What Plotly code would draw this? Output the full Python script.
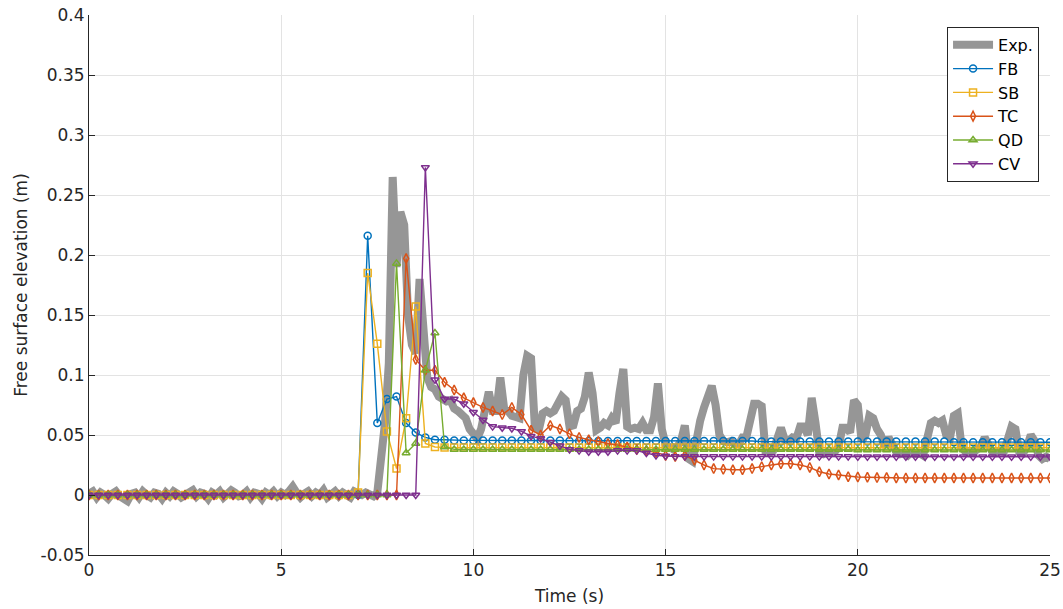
import numpy as np
import plotly.graph_objects as go

# ---------------- data ----------------
exp_t = np.round(np.arange(0, 25.0001, 0.1), 2)
exp_y = [
    # 0.0 - 0.9
    0.001, 0.003, -0.002, 0.002, 0.000, -0.003, 0.001, 0.003, -0.001, -0.004,
    # 1.0 - 1.9
    -0.005, 0.001, 0.002, -0.002, 0.003, 0.000, -0.002, 0.002, 0.001, -0.003,
    # 2.0 - 2.9
    0.002, -0.001, 0.003, 0.001, -0.002, 0.000, 0.003, 0.004, -0.001, 0.002,
    # 3.0 - 3.9
    0.001, -0.003, 0.002, 0.000, 0.003, -0.002, 0.001, 0.004, 0.002, -0.001,
    # 4.0 - 4.9
    0.000, 0.003, -0.002, 0.002, 0.001, -0.003, 0.002, 0.000, 0.003, -0.001,
    # 5.0 - 5.9
    0.002, 0.000, 0.003, 0.007, 0.002, -0.002, 0.001, 0.003, -0.001, 0.002,
    # 6.0 - 6.9
    0.000, 0.004, -0.002, 0.001, 0.003, -0.001, 0.002, 0.000, -0.002, 0.003,
    # 7.0 - 7.9
    0.001, 0.000, 0.002, 0.001, -0.001, 0.002, 0.030, 0.060, 0.110, 0.265,
    # 8.0 - 8.9
    0.190, 0.236, 0.225, 0.150, 0.125, 0.118, 0.180, 0.130, 0.098, 0.090,
    # 9.0 - 9.9
    0.088, 0.082, 0.080, 0.078, 0.079, 0.072, 0.070, 0.066, 0.064, 0.055,
    # 10.0 - 10.9
    0.050, 0.047, 0.055, 0.075, 0.086, 0.070, 0.070, 0.098, 0.072, 0.070,
    # 11.0 - 11.9
    0.066, 0.065, 0.064, 0.100, 0.116, 0.114, 0.056, 0.054, 0.068, 0.070,
    # 12.0 - 12.9
    0.068, 0.070, 0.078, 0.082, 0.079, 0.057, 0.058, 0.070, 0.072, 0.082,
    # 13.0 - 13.9
    0.102, 0.085, 0.054, 0.056, 0.060, 0.058, 0.064, 0.060, 0.085, 0.105,
    # 14.0 - 14.9
    0.057, 0.055, 0.056, 0.055, 0.060, 0.054, 0.054, 0.065, 0.093, 0.055,
    # 15.0 - 15.9
    0.042, 0.040, 0.038, 0.040, 0.045, 0.058, 0.030, 0.028, 0.050, 0.062,
    # 16.0 - 16.9
    0.073, 0.082, 0.091, 0.075, 0.050, 0.045, 0.044, 0.045, 0.042, 0.042,
    # 17.0 - 17.9
    0.048, 0.048, 0.060, 0.076, 0.076, 0.074, 0.036, 0.035, 0.037, 0.045,
    # 18.0 - 18.9
    0.056, 0.046, 0.045, 0.048, 0.047, 0.057, 0.057, 0.050, 0.081, 0.060,
    # 19.0 - 19.9
    0.035, 0.034, 0.036, 0.035, 0.036, 0.040, 0.056, 0.056, 0.052, 0.079,
    # 20.0 - 20.9
    0.075, 0.045, 0.050, 0.066, 0.064, 0.055, 0.050, 0.040, 0.048, 0.042,
    # 21.0 - 21.9
    0.036, 0.034, 0.035, 0.033, 0.036, 0.034, 0.035, 0.033, 0.045, 0.060,
    # 22.0 - 22.9
    0.062, 0.060, 0.062, 0.050, 0.048, 0.066, 0.068, 0.040, 0.036, 0.035,
    # 23.0 - 23.9
    0.035, 0.038, 0.040, 0.048, 0.040, 0.036, 0.035, 0.037, 0.036, 0.045,
    # 24.0 - 25.0
    0.057, 0.055, 0.036, 0.035, 0.040, 0.050, 0.045, 0.033, 0.030, 0.032, 0.030,
]

sim_t = np.round(np.arange(0, 25.0001, 0.25), 2)

fb = [
    0, 0, 0, 0, 0, 0, 0, 0, 0, 0,
    0, 0, 0, 0, 0, 0, 0, 0, 0, 0,
    0, 0, 0, 0, 0, 0, 0, 0, 0, 0.216,
    0.060, 0.080, 0.082, 0.060, 0.052, 0.048, 0.046, 0.046, 0.0455, 0.0455,
    0.0455, 0.0455, 0.0455, 0.0455, 0.0455, 0.0455, 0.0455, 0.0455, 0.0455, 0.0455,
    0.045, 0.045, 0.045, 0.045, 0.045, 0.045, 0.045, 0.045, 0.045, 0.045,
    0.045, 0.045, 0.045, 0.045, 0.045, 0.045, 0.045, 0.045, 0.045, 0.045,
    0.0445, 0.0445, 0.0445, 0.0445, 0.0445, 0.0445, 0.0445, 0.0445, 0.0445, 0.0445,
    0.0445, 0.0445, 0.0445, 0.0445, 0.0445, 0.0445, 0.0445, 0.0445, 0.0445, 0.0445,
    0.044, 0.044, 0.044, 0.044, 0.044, 0.044, 0.044, 0.044, 0.044, 0.044,
    0.044,
]

sb = [
    0, 0, 0, 0, 0, 0, 0, 0, 0, 0,
    0, 0, 0, 0, 0, 0, 0, 0, 0, 0,
    0, 0, 0, 0, 0, 0, 0, 0, 0.002, 0.185,
    0.126, 0.053, 0.022, 0.064, 0.157, 0.043, 0.040, 0.0395, 0.0395, 0.0395,
    0.0395, 0.0395, 0.0395, 0.0395, 0.0395, 0.0395, 0.0395, 0.0395, 0.0395, 0.0395,
    0.0395, 0.0395, 0.0395, 0.0395, 0.0395, 0.0395, 0.0395, 0.0395, 0.0395, 0.0395,
    0.0395, 0.0395, 0.0395, 0.0395, 0.0395, 0.0395, 0.0395, 0.0395, 0.0395, 0.0395,
    0.0395, 0.0395, 0.0395, 0.0395, 0.0395, 0.0395, 0.0395, 0.0395, 0.0395, 0.0395,
    0.0395, 0.0395, 0.0395, 0.0395, 0.0395, 0.0395, 0.0395, 0.0395, 0.0395, 0.0395,
    0.0395, 0.0395, 0.0395, 0.0395, 0.0395, 0.0395, 0.0395, 0.0395, 0.0395, 0.0395,
    0.0395,
]

tc = [
    0, 0, 0, 0, 0, 0, 0, 0, 0, 0,
    0, 0, 0, 0, 0, 0, 0, 0, 0, 0,
    0, 0, 0, 0, 0, 0, 0, 0, 0, 0,
    0, 0, 0, 0.197, 0.113, 0.104, 0.104, 0.094, 0.0875, 0.081,
    0.077, 0.073, 0.070, 0.067, 0.073, 0.067, 0.054, 0.050, 0.058, 0.055,
    0.051, 0.048, 0.046, 0.0445, 0.043, 0.042, 0.040, 0.038, 0.037, 0.0355,
    0.033, 0.032, 0.033, 0.029, 0.025, 0.022, 0.0214, 0.021, 0.021, 0.022,
    0.0236, 0.025, 0.026, 0.026, 0.025, 0.023, 0.0194, 0.0175, 0.0167, 0.0153,
    0.015, 0.0148, 0.0145, 0.0145, 0.0142, 0.0142, 0.0142, 0.0142, 0.0142, 0.0142,
    0.0142, 0.0142, 0.0142, 0.0142, 0.0142, 0.0142, 0.0142, 0.0142, 0.0142, 0.0142,
    0.0142,
]

qd = [
    0, 0, 0, 0, 0, 0, 0, 0, 0, 0,
    0, 0, 0, 0, 0, 0, 0, 0, 0, 0,
    0, 0, 0, 0, 0, 0, 0, 0, 0, 0,
    0, 0, 0.193, 0.035, 0.043, 0.104, 0.135, 0.040, 0.038, 0.038,
    0.038, 0.038, 0.038, 0.038, 0.038, 0.038, 0.038, 0.038, 0.038, 0.038,
    0.038, 0.038, 0.038, 0.038, 0.038, 0.038, 0.038, 0.038, 0.038, 0.038,
    0.038, 0.038, 0.038, 0.038, 0.038, 0.038, 0.038, 0.038, 0.038, 0.038,
    0.038, 0.038, 0.038, 0.038, 0.038, 0.038, 0.038, 0.038, 0.038, 0.038,
    0.0375, 0.0375, 0.0375, 0.0375, 0.0375, 0.0375, 0.0375, 0.0375, 0.0375, 0.0375,
    0.0375, 0.0375, 0.0375, 0.0375, 0.0375, 0.0375, 0.0375, 0.0375, 0.0375, 0.0375,
    0.0375,
]

cv = [
    0, 0, 0, 0, 0, 0, 0, 0, 0, 0,
    0, 0, 0, 0, 0, 0, 0, 0, 0, 0,
    0, 0, 0, 0, 0, 0, 0, 0, 0, 0,
    0, 0, 0, 0, 0, 0.273, 0.096, 0.080, 0.080, 0.076,
    0.069, 0.0625, 0.057, 0.056, 0.0555, 0.053, 0.049, 0.047, 0.044, 0.041,
    0.038, 0.037, 0.036, 0.036, 0.036, 0.037, 0.037, 0.037, 0.035, 0.033,
    0.0325, 0.032, 0.032, 0.032, 0.032, 0.032, 0.032, 0.032, 0.032, 0.032,
    0.032, 0.032, 0.032, 0.032, 0.032, 0.032, 0.032, 0.032, 0.032, 0.032,
    0.0318, 0.0318, 0.0318, 0.0318, 0.0318, 0.0318, 0.0318, 0.0318, 0.0318, 0.0318,
    0.0318, 0.0318, 0.0318, 0.0318, 0.0318, 0.0318, 0.0318, 0.0318, 0.0318, 0.0318,
    0.0318,
]

x_ticks = [0, 5, 10, 15, 20, 25]
y_ticks = [-0.05, 0, 0.05, 0.1, 0.15, 0.2, 0.25, 0.3, 0.35, 0.4]
y_tick_text = ["-0.05", "0", "0.05", "0.1", "0.15", "0.2", "0.25", "0.3", "0.35", "0.4"]

# ---------------- figure ----------------
FONT = "DejaVu Sans"
fig = go.Figure()

fig.add_trace(go.Scatter(
    x=exp_t, y=exp_y, name="Exp.", mode="lines",
    line=dict(color="#969696", width=8),
))

series = [
    ("FB", fb, "#0072BD", "circle-open"),
    ("SB", sb, "#EDB120", "square-open"),
    ("TC", tc, "#D95319", "diamond-tall-open"),
    ("QD", qd, "#77AC30", "triangle-up-open"),
    ("CV", cv, "#7E2F8E", "triangle-down-open"),
]
for name, vals, col, sym in series:
    fig.add_trace(go.Scatter(
        x=sim_t, y=vals, name=name, mode="lines+markers",
        line=dict(color=col, width=1.4),
        marker=dict(symbol=sym, size=7, color=col, line=dict(width=1.5, color=col)),
    ))

fig.update_layout(
    width=1063, height=609,
    margin=dict(l=89, r=13, t=15, b=54, autoexpand=False),
    paper_bgcolor="white", plot_bgcolor="white",
    font=dict(family=FONT, size=17, color="#262626"),
    showlegend=True,
    legend=dict(
        x=0.9886, y=0.978, xanchor="right", yanchor="top",
        bgcolor="white", bordercolor="#262626", borderwidth=1,
        font=dict(family=FONT, size=16, color="#000000"),
        tracegroupgap=0, itemwidth=40,
    ),
)

fig.update_xaxes(
    range=[0, 25], tickvals=x_ticks, ticktext=[str(v) for v in x_ticks],
    showgrid=True, gridcolor="#E3E3E3", gridwidth=1,
    showline=True, linecolor="#262626", linewidth=1,
    ticks="inside", ticklen=6, tickcolor="#262626",
    zeroline=False, mirror=False, automargin=False,
    title=dict(text="Time (s)", font=dict(family=FONT, size=17, color="#262626"), standoff=10),
    tickfont=dict(family=FONT, size=17, color="#262626"),
)
fig.update_yaxes(
    range=[-0.05, 0.4], tickvals=y_ticks, ticktext=y_tick_text,
    showgrid=True, gridcolor="#E3E3E3", gridwidth=1,
    showline=True, linecolor="#262626", linewidth=1,
    ticks="inside", ticklen=6, tickcolor="#262626",
    zeroline=False, mirror=False, automargin=False,
    title=dict(text="Free surface elevation (m)", font=dict(family=FONT, size=17, color="#262626"), standoff=8),
    tickfont=dict(family=FONT, size=17, color="#262626"),
)

fig.write_html("out.html")
